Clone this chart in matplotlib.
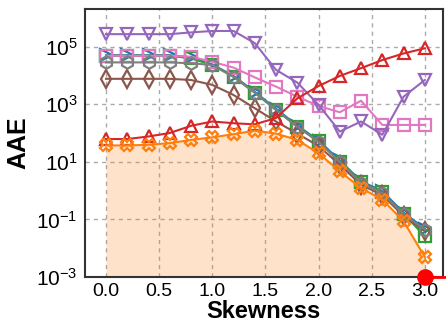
#!/usr/bin/env python3
import numpy as np
import matplotlib
matplotlib.use('Agg')
import matplotlib.pyplot as plt

plt.rcParams['font.family'] = ['Liberation Sans', 'DejaVu Sans']
plt.rcParams['mathtext.fontset'] = 'custom'
plt.rcParams['mathtext.rm'] = 'Liberation Sans'
plt.rcParams['mathtext.it'] = 'Liberation Sans:italic'

skew = [0.0, 0.2, 0.4, 0.6, 0.8, 1.0, 1.2, 1.4, 1.6, 1.8, 2.0, 2.2, 2.4, 2.6, 2.8, 3.0]

# log10 of AAE
blue_log = [4.70, 4.70, 4.70, 4.70, 4.62, 4.38, 3.98, 3.43, 2.84, 2.26, 1.74, 1.05, 0.33, -0.02, -0.76, -1.32]
green_log = [4.68, 4.68, 4.68, 4.68, 4.59, 4.36, 3.95, 3.40, 2.80, 2.22, 1.71, 1.01, 0.29, -0.06, -0.80, -1.58]
gray_log = [4.45, 4.45, 4.45, 4.45, 4.42, 4.36, 3.95, 3.40, 2.80, 2.22, 1.69, 1.00, 0.28, -0.08, -0.82, -1.35]
brown_log = [3.88, 3.88, 3.88, 3.88, 3.84, 3.67, 3.32, 2.86, 2.40, 1.98, 1.55, 0.90, 0.20, -0.15, -0.88, -1.40]
pink_log = [4.68, 4.68, 4.68, 4.68, 4.65, 4.47, 4.27, 3.93, 3.61, 3.26, 2.94, 2.72, 3.12, 2.28, 2.28, 2.28]
purple_log = [5.43, 5.43, 5.43, 5.43, 5.49, 5.54, 5.54, 5.12, 4.19, 3.75, 2.98, 2.05, 2.40, 1.94, 3.26, 3.84]
red_log = [1.79, 1.79, 1.88, 2.00, 2.25, 2.40, 2.34, 2.30, 2.52, 3.20, 3.63, 3.98, 4.25, 4.53, 4.76, 4.94]
orange_log = [1.57, 1.57, 1.59, 1.65, 1.76, 1.85, 1.96, 2.08, 1.98, 1.76, 1.30, 0.67, 0.09, -0.31, -1.06, -2.30]

# stray red series at the bottom right (drawn past the frame)
stray_x = [3.0, 3.4]
stray_y = [1e-3, 1e-3]

x = np.array(skew)
series = [
    (blue_log, 'tab:blue', '>'),
    (green_log, 'tab:green', 's'),
    (pink_log, 'tab:pink', 's'),
    (brown_log, 'tab:brown', 'd'),
    (gray_log, 'tab:gray', 'h'),
    (purple_log, 'tab:purple', 'v'),
    (red_log, 'tab:red', '^'),
    (orange_log, 'tab:orange', 'X'),
]

fig = plt.figure(figsize=(4.46, 3.23), dpi=100)
ax = fig.add_axes([0.19, 0.142, 0.803, 0.830])

orange = 10 ** np.array(orange_log)
ax.fill_between(x, orange, 1e-3, color='tab:orange', alpha=0.22, linewidth=0, zorder=1)

for vals, col, mk in series:
    ax.plot(x, 10 ** np.array(vals), color=col, marker=mk, markersize=9,
            markerfacecolor='none', markeredgewidth=1.6, linewidth=1.5, zorder=3)

ax.plot(stray_x, stray_y, color='red', linewidth=2, marker='o', markersize=11,
        markevery=[0], clip_on=False, zorder=5)

ax.set_yscale('log')
ax.set_ylim(1e-3, 2e6)
ax.set_xlim(-0.2, 3.17)
ax.set_yticks([1e-3, 1e-1, 1e1, 1e3, 1e5])
ax.set_yticklabels([r'$10^{-3}$', r'$10^{-1}$', r'$10^{1}$', r'$10^{3}$', r'$10^{5}$'])
ax.yaxis.set_minor_locator(matplotlib.ticker.NullLocator())
ax.set_xticks([0.0, 0.5, 1.0, 1.5, 2.0, 2.5, 3.0])
ax.set_xticklabels(['0.0', '0.5', '1.0', '1.5', '2.0', '2.5', '3.0'])
ax.tick_params(axis='x', labelsize=14, length=0, pad=4)
ax.tick_params(axis='y', labelsize=15, length=0, pad=5)
ax.grid(True, linestyle=(0, (3, 3)), color='#aaaaaa', linewidth=1)
ax.set_axisbelow(True)
for s in ax.spines.values():
    s.set_linewidth(1.5)
    s.set_color('#333333')

ax.set_xlabel('Skewness', fontsize=17, fontweight='bold', labelpad=0)
ax.set_ylabel('AAE', fontsize=18, fontweight='bold', labelpad=4)

fig.savefig('out.png', dpi=100)
